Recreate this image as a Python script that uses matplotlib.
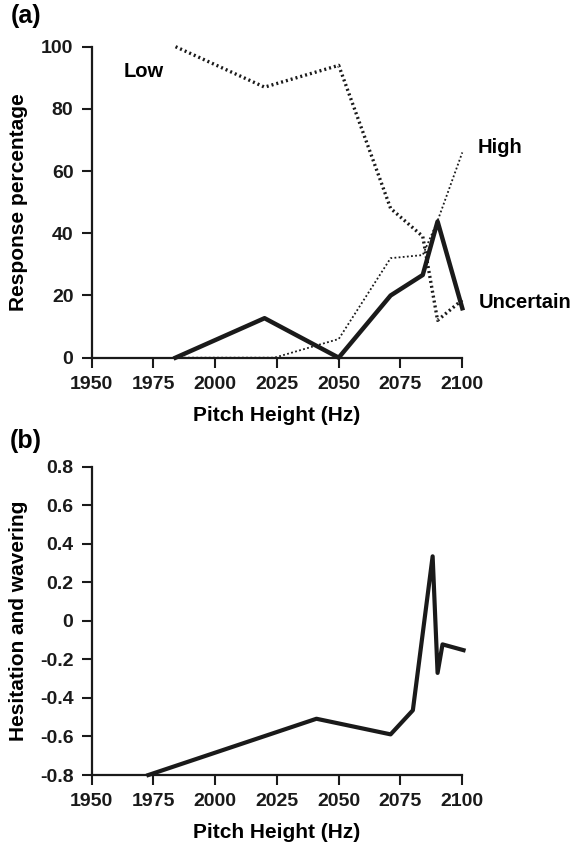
import matplotlib
matplotlib.use("Agg")
import matplotlib.pyplot as plt

# panel (a): response percentages
freq_low = [1984, 2020, 2050, 2071, 2084, 2090, 2100]
low = [100, 87, 94, 48, 39, 12, 18.6]
freq_high = [1984, 2024, 2050, 2071, 2084, 2090, 2100]
high = [0, 0, 6, 32, 33, 44, 66]
freq_unc = [1984, 2020, 2050, 2071, 2084, 2090, 2100]
uncertain = [0, 12.7, 0, 20, 26.6, 43.8, 15.9]

# panel (b): hesitation and wavering
freq_hes = [1973, 2041, 2071, 2080, 2088, 2090, 2092, 2100.5]
hesitation = [-0.8, -0.508, -0.589, -0.464, 0.335, -0.27, -0.122, -0.152]

x_ticks = [1950, 1975, 2000, 2025, 2050, 2075, 2100]

plt.rcParams['font.family'] = 'Liberation Sans'
plt.rcParams['font.weight'] = 'bold'

ink = '#1a1a1a'
fig = plt.figure(figsize=(5.73, 8.46), dpi=100)
ax1 = fig.add_axes([0.1597, 0.5772, 0.6471, 0.3676])
ax2 = fig.add_axes([0.1597, 0.0839, 0.6471, 0.3644])


def style_axis(ax, ylabel):
    for side in ['top', 'right']:
        ax.spines[side].set_visible(False)
    for side in ['left', 'bottom']:
        ax.spines[side].set_linewidth(1.6)
        ax.spines[side].set_color(ink)
    ax.tick_params(direction='out', length=7, width=1.5, colors=ink, labelsize=14, pad=6)
    ax.set_xlim(1950, 2100)
    ax.set_xticks(x_ticks)
    ax.set_xlabel('Pitch Height (Hz)', fontsize=15, fontweight='bold', va='center')
    ax.xaxis.set_label_coords(0.5, -0.187)
    ax.set_ylabel(ylabel, fontsize=15, fontweight='bold', va='center')
    ax.yaxis.set_label_coords(-0.198, 0.5)


ax1.plot(freq_low, low, color=ink, lw=2.4, linestyle=(0, (0.6, 0.9)), clip_on=False)
ax1.plot(freq_high, high, color=ink, lw=1.3, linestyle=(0, (1, 1.3)), clip_on=False)
ax1.plot(freq_unc, uncertain, color=ink, lw=3.2, clip_on=False)
style_axis(ax1, 'Response percentage')
ax1.set_ylim(0, 100)
ax1.set_yticks([0, 20, 40, 60, 80, 100])
ax1.text(1962.9, 92, 'Low', fontsize=14.5, fontweight='bold', va='center', ha='left')
ax1.text(2106, 67.7, 'High', fontsize=14.5, fontweight='bold', va='center', ha='left')
ax1.text(2106.8, 17.9, 'Uncertain', fontsize=14.5, fontweight='bold', va='center', ha='left')
fig.text(0.019, 0.981, '(a)', fontsize=18, fontweight='bold', va='center', ha='left')

ax2.plot(freq_hes, hesitation, color=ink, lw=3.0, clip_on=False)
style_axis(ax2, 'Hesitation and wavering')
ax2.set_ylim(-0.8, 0.8)
ax2.set_yticks([-0.8, -0.6, -0.4, -0.2, 0, 0.2, 0.4, 0.6, 0.8])
ax2.set_yticklabels(['-0.8', '-0.6', '-0.4', '-0.2', '0', '0.2', '0.4', '0.6', '0.8'])
fig.text(0.017, 0.4787, '(b)', fontsize=18, fontweight='bold', va='center', ha='left')

fig.savefig('out.png', dpi=100)
